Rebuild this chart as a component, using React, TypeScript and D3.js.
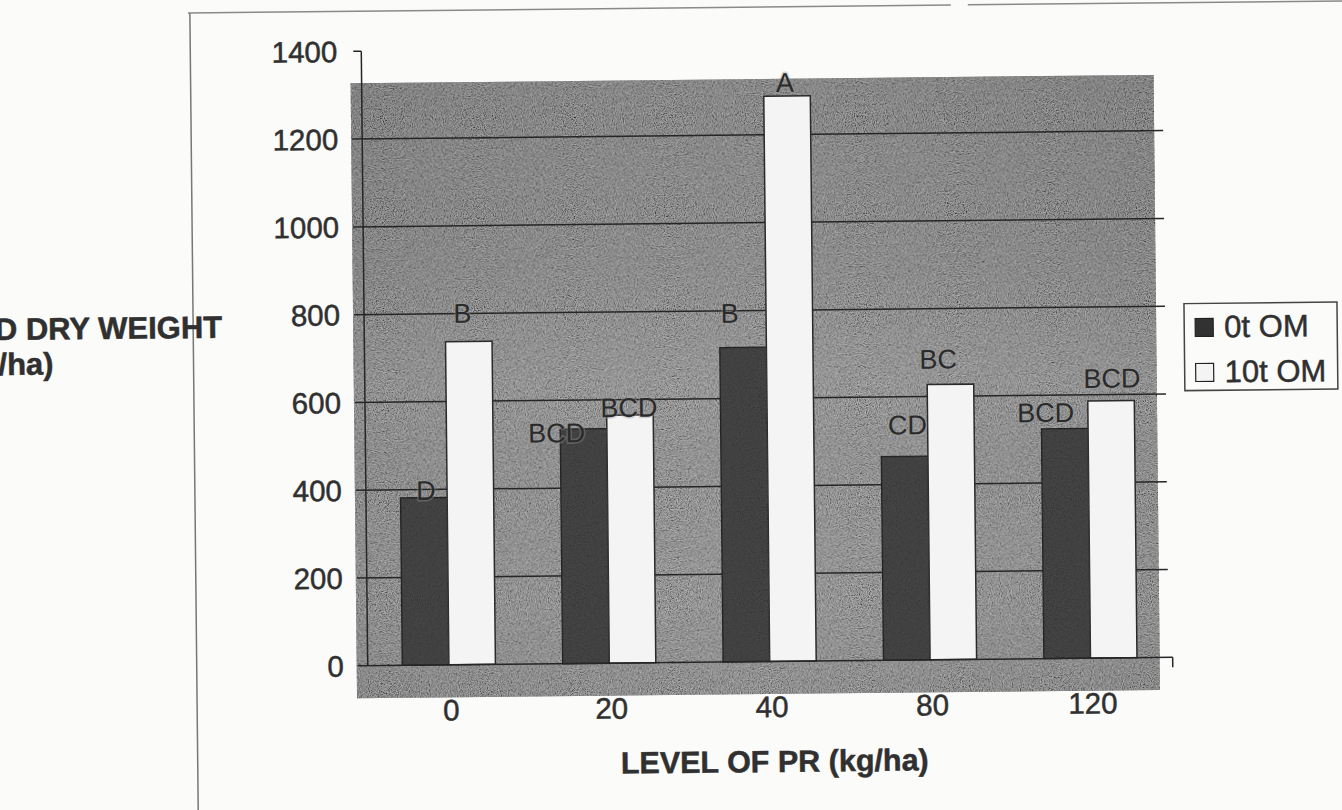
import React from 'react';
import * as d3 from 'd3';

const categories = ['0', '20', '40', '80', '120'];
const seriesNames = ['0t OM', '10t OM'];
const om0 = [381, 534, 716, 464, 523];
const om10 = [736, 565, 1288, 627, 586];
const letters0 = ['D', 'BCD', 'B', 'CD', 'BCD'];
const letters10 = ['B', 'BCD', 'A', 'BC', 'BCD'];
const yTicks = [0, 200, 400, 600, 800, 1000, 1200, 1400];
const xTitle = 'LEVEL OF PR (kg/ha)';
const yTitle = ['SEED DRY WEIGHT', '(kg/ha)'];

// layout-only offsets of the significance letters (px) relative to bar top centre
const labelOff0 = [[2, 2], [-27, 13], [-13, -25], [3, -22], [-19, -7]];
const labelOff10 = [[-6, -19], [-1, 2], [-2, -4], [-12, -16], [1, -13]];

const W = 1342;
const H = 810;
const FONT = 'Liberation Sans, Arial, Helvetica, sans-serif';
const INK = '#303030';

export default function App() {
  const axisX = 365;
  const x0 = d3.scaleBand<string>().domain(categories).range([366, 1168]).paddingInner(0.42).paddingOuter(0.21);
  const x1 = d3.scaleBand<string>().domain(['a', 'b']).range([0, x0.bandwidth()]).padding(0);
  const y = d3.scaleLinear().domain([0, 1400]).range([662.5, 48]);

  const series = [
    { key: 'a', vals: om0, letters: letters0, offs: labelOff0, fill: '#323232', stroke: '#1e1e1e' },
    { key: 'b', vals: om10, letters: letters10, offs: labelOff10, fill: '#f4f4f4', stroke: '#2a2a2a' },
  ];

  const txt = { fontFamily: FONT, fill: INK, stroke: INK, strokeWidth: 0.5 };

  return (
    <svg width={W} height={H} style={{ position: 'absolute', left: 0, top: 0, background: '#fbfbfa' }}>
      <defs>
        <linearGradient id="plotGrad" x1="0" y1="0" x2="0" y2="1">
          <stop offset="0" stopColor="#4d4d4d" />
          <stop offset="0.3" stopColor="#575757" />
          <stop offset="0.5" stopColor="#6c6c6c" />
          <stop offset="0.6" stopColor="#646464" />
          <stop offset="0.85" stopColor="#686868" />
          <stop offset="1" stopColor="#5c5c5c" />
        </linearGradient>
        <linearGradient id="plotGradH" x1="0" y1="0" x2="1" y2="0">
          <stop offset="0" stopColor="#000" stopOpacity="0.08" />
          <stop offset="0.5" stopColor="#fff" stopOpacity="0.04" />
          <stop offset="1" stopColor="#000" stopOpacity="0.06" />
        </linearGradient>
        <filter id="noise" x="0" y="0" width="100%" height="100%">
          <feTurbulence type="fractalNoise" baseFrequency="0.9" numOctaves="2" stitchTiles="stitch" result="t" />
          <feColorMatrix in="t" type="matrix" values="2 0 0 0 -0.5  2 0 0 0 -0.5  2 0 0 0 -0.5  0 0 0 0 0.5" result="g" />
          <feComposite in="g" in2="SourceGraphic" operator="in" />
        </filter>
      </defs>
      <g transform={`rotate(-0.6, ${W / 2}, ${H / 2})`}>
        {/* outer frame */}
        <line x1={192} y1={8} x2={955} y2={8} stroke="#8a8a8a" strokeWidth={1.5} />
        <line x1={972} y1={8} x2={W + 20} y2={8} stroke="#8a8a8a" strokeWidth={1.5} />
        <line x1={194} y1={8} x2={194} y2={H + 20} stroke="#777" strokeWidth={1.5} />

        {/* plot background */}
        <rect x={354} y={80} width={803} height={615} fill="url(#plotGrad)" />
        <rect x={354} y={80} width={803} height={615} fill="url(#plotGradH)" />
        <rect x={354} y={80} width={803} height={615} fill="#000" filter="url(#noise)" />

        {/* gridlines */}
        {yTicks.slice(1, -1).map((t) => (
          <line key={t} x1={355} x2={1166} y1={y(t)} y2={y(t)} stroke="#262626" strokeWidth={1.5} />
        ))}

        {/* bars */}
        {series.map((s) =>
          categories.map((c, i) => {
            const bx = (x0(c) as number) + (x1(s.key) as number);
            return (
              <rect
                key={s.key + c}
                x={bx}
                y={y(s.vals[i])}
                width={x1.bandwidth()}
                height={y(0) - y(s.vals[i])}
                fill={s.fill}
                stroke={s.stroke}
                strokeWidth={1.5}
              />
            );
          })
        )}
        {categories.map((c, i) => {
          const bx = (x0(c) as number) + (x1('a') as number);
          return (
            <rect key={'n' + c} x={bx} y={y(om0[i])} width={x1.bandwidth()} height={y(0) - y(om0[i])}
              fill="#000" filter="url(#noise)" opacity={0.22} />
          );
        })}

        {/* axes */}
        <line x1={axisX} x2={axisX} y1={y(1400)} y2={y(0)} stroke="#262626" strokeWidth={1.5} />
        <line x1={357} x2={axisX} y1={y(1400)} y2={y(1400)} stroke="#262626" strokeWidth={1.5} />
        <line x1={355} x2={1170} y1={y(0)} y2={y(0)} stroke="#262626" strokeWidth={1.5} />
        <line x1={1170} x2={1170} y1={y(0)} y2={y(0) + 10} stroke="#262626" strokeWidth={1.5} />

        {/* y tick labels */}
        {yTicks.map((t) => (
          <text key={t} x={341} y={y(t)} dy="0.36em" textAnchor="end" fontSize={29.5} {...txt}>
            {t}
          </text>
        ))}

        {/* x tick labels */}
        {categories.map((c) => (
          <text key={c} x={(x0(c) as number) + x0.bandwidth() / 2 + 2} y={718} textAnchor="middle" fontSize={29.5} {...txt}>
            {c}
          </text>
        ))}

        {/* significance letters */}
        {series.map((s) =>
          categories.map((c, i) => {
            const cx = (x0(c) as number) + (x1(s.key) as number) + x1.bandwidth() / 2 + s.offs[i][0];
            const cy = y(s.vals[i]) + s.offs[i][1];
            return (
              <text key={'l' + s.key + c} x={cx} y={cy} textAnchor="middle" fontFamily={FONT} fontSize={27} fill="#2a2a2a"
                stroke="#9a9a9a" strokeOpacity={0.4} strokeWidth={3} paintOrder="stroke">
                {s.letters[i]}
              </text>
            );
          })
        )}

        {/* axis titles */}
        <text x={771} y={773} textAnchor="middle" fontWeight="bold" fontSize={30.5} {...txt}>
          {xTitle}
        </text>
        <text x={223} y={333} textAnchor="end" fontWeight="bold" fontSize={31} {...txt}>
          {yTitle[0]}
        </text>
        <text x={54} y={368} textAnchor="end" fontWeight="bold" fontSize={31} {...txt}>
          {yTitle[1]}
        </text>

        {/* legend */}
        <g transform="translate(1185, 309)">
          <rect x={0} y={0} width={153} height={87} fill="#fbfbfa" stroke="#444" strokeWidth={1.5} />
          {seriesNames.map((n, i) => (
            <g key={n} transform={`translate(0, ${i * 45})`}>
              <rect x={11} y={15} width={18} height={18} fill={series[i].fill} stroke="#222" strokeWidth={1.2} />
              <text x={40} y={34} fontSize={31} {...txt}>
                {n}
              </text>
            </g>
          ))}
        </g>
      </g>
    </svg>
  );
}
